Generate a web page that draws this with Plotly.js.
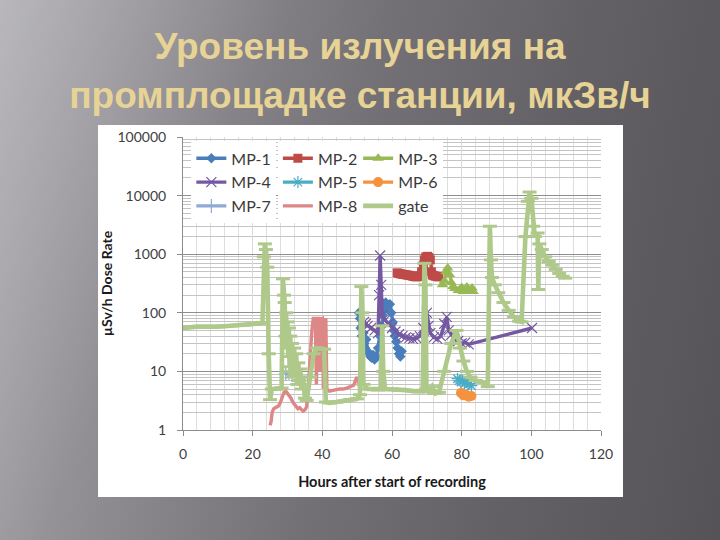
<!DOCTYPE html>
<html>
<head>
<meta charset="utf-8">
<script src="https://cdn.plot.ly/plotly-3.0.1.min.js"></script>
<style>
  html, body { margin: 0; padding: 0; width: 720px; height: 540px; overflow: hidden; }
  body {
    background:
      linear-gradient(115deg, rgba(255,255,255,0.18) 0%, rgba(255,255,255,0.10) 14%, rgba(255,255,255,0) 30%),
      linear-gradient(100deg, #a9a7ac 0%, #8f8d92 22%, #737176 48%, #636166 72%, #555358 100%);
  }
  #chart { width: 720px; height: 540px; }
</style>
</head>
<body>
<div id="chart"></div>
<script>
// ---- data (hours after start of recording, dose rate µSv/h) ----
const chartTitle = 'Уровень излучения на<br>промплощадке станции, мкЗв/ч';
const xTitle = 'Hours after start of recording';
const yTitle = 'µSv/h Dose Rate';
const xTickVals = [0, 20, 40, 60, 80, 100, 120];
const yTickVals = [1, 10, 100, 1000, 10000, 100000];
const yTickText = ['1', '10', '100', '1000', '10000', '100000'];

const seriesNames = ['MP-1', 'MP-2', 'MP-3', 'MP-4', 'MP-5', 'MP-6', 'MP-7', 'MP-8', 'gate'];

const hoursMP1 = [50.5, 50.8, 51, 51.3, 51.5, 51.8, 52, 52.3, 52.6, 53, 53.4, 53.8, 54.2, 54.6, 55, 55.5, 56, 56.5, 57, 57.4, 57.8, 58.2, 58.6, 59, 59.4, 59.8, 60.2, 60.5, 60.8, 61.2, 61.6, 62, 62.4, 62.8];
const doseMP1  = [100, 80, 55, 40, 60, 45, 30, 25, 35, 22, 20, 18, 17, 19, 16, 18, 25, 40, 60, 90, 120, 150, 130, 110, 140, 100, 70, 50, 40, 32, 25, 20, 18, 22];

const hoursMP2 = [61.5, 62, 62.5, 63, 63.5, 64, 64.5, 65, 65.5, 66, 66.5, 67, 67.5, 68, 68.5, 69, 69.3, 69.7, 70.2, 70.6, 71, 71.3, 71.6, 72, 72.5, 73, 73.4];
const doseMP2  = [480, 470, 460, 455, 450, 445, 440, 435, 430, 420, 415, 410, 415, 430, 500, 650, 800, 900, 920, 880, 800, 500, 440, 430, 420, 415, 410];

const hoursMP3 = [74.5, 75, 75.5, 76, 76.5, 77, 77.5, 78, 79, 79.5, 80, 80.5, 81, 81.5, 82, 82.5, 83, 83.3];
const doseMP3  = [300, 350, 500, 580, 450, 330, 280, 260, 240, 250, 270, 230, 235, 275, 230, 240, 265, 230];

const hoursMP4 = [52, 52.5, 53, 54, 55, 56, 56.3, 56.6, 56.9, 57.2, 58, 59, 60, 61, 62, 63, 64, 65, 66, 67, 68, 69, 70, 70.5, 71, 72, 73, 74, 75, 75.7, 76.3, 77, 78, 79, 80, 81, 82, 100.2];
const doseMP4  = [70, 65, 60, 55, 50, 45, 200, 950, 300, 90, 75, 65, 55, 48, 43, 40, 38, 37, 36, 37, 40, 55, 100, 60, 45, 38, 36, 40, 65, 85, 50, 42, 35, 33, 30, 31, 29, 55];

const hoursMP5 = [78.8, 79.3, 79.8, 80.3, 80.8, 81.3, 81.8, 82.3, 82.8];
const doseMP5  = [7.5, 7.0, 6.6, 6.9, 6.3, 6.5, 6.0, 6.2, 5.7];

const hoursMP6 = [79.8, 80.5, 81.2, 82, 82.8];
const doseMP6  = [4.3, 3.9, 4.0, 3.7, 3.8];

const hoursMP7 = [29.5, 30.4, 31.3];
const doseMP7  = [9.0, 9.5, 8.7];

const hoursMP8 = [25, 25.3, 25.6, 26, 26.5, 27, 27.5, 28, 28.5, 29, 29.5, 30, 30.5, 31, 31.5, 32, 32.5, 33, 33.5, 34, 34.5, 35, 35.5, 36, 36.5, 37, 37.4, 38, 38.3, 38.6, 39, 39.3, 39.6, 40, 40.3, 40.6, 41, 41.3, 42, 43, 44, 45, 46, 47, 48, 49, 49.5, 50, 50.5];
const doseMP8  = [1.2, 1.4, 2.0, 2.3, 2.4, 2.5, 2.6, 3.0, 3.8, 4.4, 4.6, 4.2, 3.8, 3.5, 3.0, 2.7, 2.5, 2.3, 2.4, 2.2, 2.1, 2.2, 2.5, 6, 20, 50, 80, 80, 6, 80, 80, 10, 78, 80, 5, 76, 76, 5, 4.6, 4.8, 4.9, 5.0, 5.0, 5.2, 5.4, 5.8, 7, 8, 6];

const hoursGate = [0, 2, 4, 6, 8, 10, 12, 14, 16, 18, 20, 22, 22.8,
  23.2, 23.5, 23.8, 24.2, 24.6, 25, 25.5, 26.5, 27.5, 28.3,
  28.7, 29, 29.2, 29.4, 29.6, 29.8, 30, 30.2, 30.4, 30.6, 30.8, 31, 31.3, 31.6, 31.9, 32.2, 32.5, 32.8, 33.1, 33.4, 33.7, 34, 34.3, 34.6, 35, 35.5,
  36.5, 37.5, 38.5, 39.5, 40.5, 41, 42, 44, 46, 48, 50, 50.8,
  51.2, 51.5, 51.8, 53, 54, 55, 56, 56.8, 57.2, 57.5, 58, 60, 62, 64, 66, 68, 68.8,
  69.3, 69.6, 69.9, 70.5, 71.5, 72.5, 73.5, 75, 77, 78.5, 79.5, 80.5, 81.5, 82.5, 84, 86, 87.5,
  88.1, 88.4, 88.7, 89.5, 90.5, 92, 93.5, 95, 96.5, 97.2,
  98.3, 99, 99.5, 100, 100.5, 101, 101.8, 102, 102.3, 103, 104, 105, 106, 107, 108, 109, 109.7];
const doseGate = [55, 57, 58, 58, 57, 58, 59, 60, 61, 62, 64, 66, 68,
  900, 1500, 1200, 600, 20, 3.3, 5, 5, 5, 5.2,
  380, 200, 150, 40, 100, 25, 70, 18, 55, 12, 40, 10, 30, 8, 25, 9, 20, 6, 14, 7, 11, 5, 8, 6, 3.5, 3.2,
  8, 20, 25, 24, 24, 3, 2.9, 3.0, 3.1, 3.3, 3.4, 4,
  280, 100, 6, 5, 5, 5, 4.8, 5, 60, 10, 5, 5, 4.8, 4.8, 4.6, 4.5, 4.6,
  700, 300, 5, 4.5, 5.5, 4.2, 4.4, 10, 30, 50, 25, 15, 10, 8, 7, 6.5, 5.5,
  3000, 800, 400, 300, 220, 150, 110, 85, 72, 70,
  2000, 8000, 11500, 9000, 3000, 2000, 2300, 250, 1500, 1200, 900, 750, 650, 550, 470, 420, 390];

// ---- styles ----
const colors = ['#4a7ebb', '#be4b48', '#98b954', '#7458a2', '#4bacc6', '#f59240', '#8eaad6', '#dd8786', '#afc98a'];
const symbols = ['diamond', 'square', 'triangle-up', 'x-thin-open', 'asterisk-open', 'circle', 'cross-thin-open', null, 'line-ew'];
const msizes = [8, 9, 10, 10, 10, 10, 10, 0, 10];
const legendOf = ['legend', 'legend2', 'legend3', 'legend', 'legend2', 'legend3', 'legend', 'legend2', 'legend3'];

const xs = [hoursMP1, hoursMP2, hoursMP3, hoursMP4, hoursMP5, hoursMP6, hoursMP7, hoursMP8, hoursGate];
const ys = [doseMP1, doseMP2, doseMP3, doseMP4, doseMP5, doseMP6, doseMP7, doseMP8, doseGate];

const traces = seriesNames.map((name, i) => {
  const hasMarker = symbols[i] !== null;
  const t = {
    type: 'scatter',
    x: xs[i], y: ys[i], name: name,
    mode: hasMarker ? 'lines+markers' : 'lines',
    line: { color: colors[i], width: name === 'gate' ? 4.6 : 3.4 },
    legend: legendOf[i],
    hoverinfo: 'x+y+name'
  };
  if (hasMarker) {
    const open = /open|line/.test(symbols[i]);
    t.marker = {
      symbol: symbols[i], size: msizes[i], color: colors[i],
      line: { color: colors[i], width: open ? (name === 'gate' ? 3 : 1.2) : 0 }
    };
  }
  return t;
});

const legendFont = { family: 'Lato, "Liberation Sans", sans-serif', size: 16, color: '#3a3a3a' };
const mkLegend = (x) => ({
  x: x, y: 0.985, xref: 'paper', yref: 'paper', xanchor: 'left', yanchor: 'top',
  bgcolor: '#ffffff', borderwidth: 0, font: legendFont, orientation: 'v',
  traceorder: 'normal', itemclick: false, itemdoubleclick: false
});

const layout = {
  width: 720, height: 540, autosize: false,
  margin: { l: 183, r: 119, t: 137, b: 110, pad: 0 },
  paper_bgcolor: 'rgba(0,0,0,0)',
  plot_bgcolor: '#ffffff',
  title: {
    text: chartTitle,
    font: { family: '"Liberation Sans", Arial, sans-serif', size: 37, color: '#e6d395', weight: 'bold' },
    x: 0.5, xanchor: 'center', y: 0.89, yanchor: 'middle', yref: 'container'
  },
  showlegend: true,
  legend: mkLegend(0.02),
  legend2: mkLegend(0.227),
  legend3: mkLegend(0.419),
  xaxis: {
    range: [0, 120], tickvals: xTickVals, ticks: 'outside', ticklen: 5, tickcolor: '#8c8c8c',
    showline: true, linecolor: '#8c8c8c', linewidth: 1, zeroline: false,
    showgrid: true, gridcolor: '#d9d9d9', gridwidth: 1,
    minor: { dtick: 4, showgrid: true, gridcolor: '#dedede', gridwidth: 1, ticks: '' },
    tickfont: { family: 'Lato, sans-serif', size: 14, color: '#404040' },
    ticklabelstandoff: 6,
    title: { text: xTitle, font: { family: 'Lato, sans-serif', size: 14.5, color: '#1a1a1a', weight: 'bold' }, standoff: 16 }
  },
  yaxis: {
    type: 'log', range: [0, 5], tickvals: yTickVals, ticktext: yTickText,
    ticks: 'outside', ticklen: 5, tickcolor: '#8c8c8c',
    showline: true, linecolor: '#8c8c8c', linewidth: 1, zeroline: false,
    showgrid: true, gridcolor: '#8f8f8f', gridwidth: 1,
    minor: { dtick: 'D1', showgrid: true, gridcolor: '#c4c4c4', gridwidth: 1, ticks: '' },
    tickfont: { family: 'Lato, sans-serif', size: 14, color: '#404040' },
    ticklabelstandoff: 8,
    title: { text: yTitle, font: { family: 'Lato, sans-serif', size: 14, color: '#1a1a1a', weight: 'bold' }, standoff: 1 }
  },
  shapes: [{
    type: 'rect', xref: 'paper', yref: 'paper', layer: 'below',
    x0: -0.2033, x1: 1.0526, y0: -0.2287, y1: 1.041,
    fillcolor: '#ffffff', line: { width: 0 }
  }]
};

Plotly.newPlot('chart', traces, layout, { staticPlot: true, displayModeBar: false });
</script>
</body>
</html>
